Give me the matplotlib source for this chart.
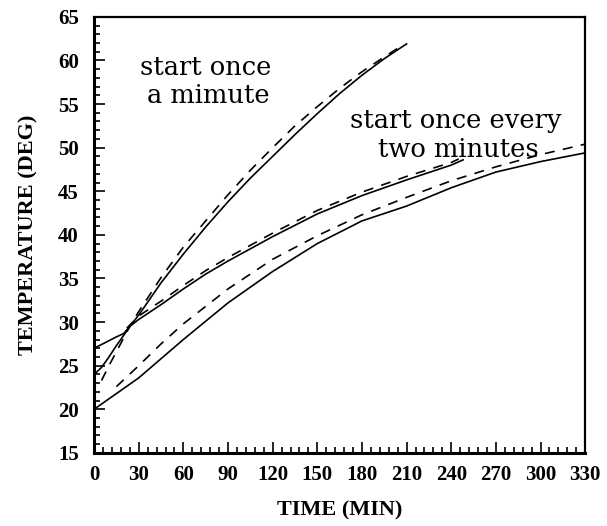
import numpy as np
import matplotlib.pyplot as plt
from matplotlib.ticker import MultipleLocator

# start once a minute
t_min = [0, 5, 10, 15, 20, 24, 30, 45, 60, 75, 90, 105, 120, 135, 150, 165, 180, 195, 210]
T_min_solid = [24.0, 24.8, 26.0, 27.3, 28.5, 29.5, 30.8, 34.5, 37.8, 40.9, 43.8, 46.5, 49.0, 51.5, 53.9, 56.2, 58.3, 60.2, 61.9]
t_min_d = [5, 10, 15, 24, 30, 45, 60, 75, 90, 105, 120, 135, 150, 165, 180, 195, 205]
T_min_dash = [23.3, 25.0, 26.6, 29.5, 31.2, 35.1, 38.6, 41.6, 44.6, 47.4, 50.0, 52.5, 54.7, 56.8, 58.7, 60.4, 61.5]

# start once every two minutes, upper pair
t_up = [0, 7, 15, 20, 24, 30, 45, 60, 75, 90, 120, 150, 180, 210, 240, 248]
T_up_solid = [27.0, 27.6, 28.3, 28.7, 29.5, 30.3, 32.0, 33.8, 35.5, 37.0, 39.8, 42.4, 44.5, 46.3, 48.0, 48.6]
t_up_d = [22, 30, 45, 60, 75, 90, 120, 150, 180, 210, 240, 245]
T_up_dash = [29.3, 30.7, 32.4, 34.2, 35.9, 37.4, 40.2, 42.8, 44.9, 46.7, 48.3, 48.7]

# start once every two minutes, lower pair
t_lo = [0, 15, 30, 60, 90, 120, 150, 180, 210, 240, 270, 300, 330]
T_lo_solid = [20.0, 21.8, 23.6, 28.0, 32.2, 35.8, 39.0, 41.6, 43.3, 45.4, 47.2, 48.4, 49.4]
t_lo_d = [15, 30, 45, 60, 90, 120, 150, 180, 210, 240, 270, 300, 330]
T_lo_dash = [22.6, 25.0, 27.5, 29.8, 33.8, 37.2, 39.9, 42.3, 44.3, 46.2, 47.8, 49.2, 50.4]

x_ticks = list(range(0, 331, 30))
y_ticks = list(range(15, 66, 5))

serif = ['Liberation Serif', 'DejaVu Serif']

fig = plt.figure(figsize=(6.07, 5.26), dpi=100)
ax = fig.add_axes([0.155, 0.139, 0.809, 0.829])

lw = 1.2
dash = (0, (6, 5))
ax.plot(t_min, T_min_solid, color='black', lw=lw)
ax.plot(t_min_d, T_min_dash, color='black', lw=lw, linestyle=dash)
ax.plot(t_up, T_up_solid, color='black', lw=lw)
ax.plot(t_up_d, T_up_dash, color='black', lw=lw, linestyle=dash)
ax.plot(t_lo, T_lo_solid, color='black', lw=lw)
ax.plot(t_lo_d, T_lo_dash, color='black', lw=lw, linestyle=dash)

ax.set_xlim(0, 330)
ax.set_ylim(15, 65)
ax.set_xticks(x_ticks)
ax.set_yticks(y_ticks)
ax.xaxis.set_minor_locator(MultipleLocator(6))
ax.yaxis.set_minor_locator(MultipleLocator(1))
ax.tick_params(which='both', direction='in', top=False, right=False, width=1.2)
ax.tick_params(which='major', length=8)
ax.tick_params(which='minor', length=4)
ax.tick_params(axis='y', which='major', pad=11)
ax.tick_params(axis='x', which='major', pad=9)
for lab in ax.get_xticklabels():
    lab.set_family(serif)
    lab.set_fontweight('bold')
    lab.set_fontsize(15)
for lab in ax.get_yticklabels():
    lab.set_family(serif)
    lab.set_fontweight('bold')
    lab.set_fontsize(15)

for side in ['left', 'bottom']:
    ax.spines[side].set_linewidth(2.2)
for side in ['top', 'right']:
    ax.spines[side].set_linewidth(1.6)

ax.set_xlabel('TIME (MIN)', family=serif, fontweight='bold', fontsize=16, labelpad=11)
ax.set_ylabel('TEMPERATURE (DEG)', family=serif, fontweight='bold', fontsize=16, labelpad=14)

txt = dict(family=['DejaVu Serif'], fontsize=18.5, color='black', va='baseline', ha='left')
ax.text(31, 58.35, 'start once', **txt)
ax.text(35.6, 55.1, 'a mimute', **txt)
ax.text(172, 52.3, 'start once every', **txt)
ax.text(191, 48.95, 'two minutes', **txt)

fig.savefig('out.png', dpi=100)
